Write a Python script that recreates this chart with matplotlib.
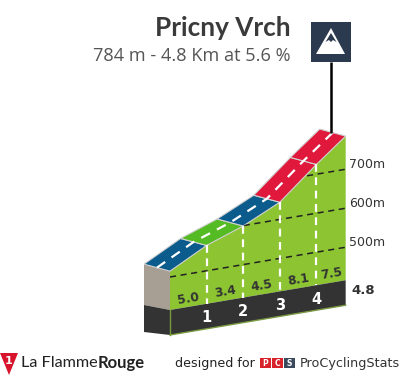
import matplotlib
matplotlib.use("Agg")
import matplotlib.pyplot as plt
from matplotlib.patches import Polygon, Rectangle

km = [0, 1, 2, 3, 4, 4.8]
elev = [515, 565, 599, 644, 725, 785]
gradients = ["5.0", "3.4", "4.5", "8.1", "7.5"]
seg_colors = ["#0b5c8c", "#55bb22", "#0b5c8c", "#e0183c", "#e0183c"]
km_marks = [1, 2, 3, 4]
grid_elev = [500, 600, 700]
title = "Pricny Vrch"
subtitle = "784 m - 4.8 Km at 5.6 %"
total = "4.8"

GREEN = "#8cc432"
DARK = "#333333"
EDGE = "#d0d0d0"

# skewed projection, everything ends up in image pixels
X0, XK = 170, 36.6
SKEW = -6.2           # px of rise per km
Y500 = 277
YM = 0.39             # px per metre
BACK = (-26, -7)      # road width offset
BASE_TOP = 310
BASE_BOT = 335


def px(k, e):
    return X0 + XK * k, Y500 + SKEW * k - (e - 500) * YM


def base(k, y0):
    return X0 + XK * k, y0 + SKEW * k


fig = plt.figure(figsize=(4.05, 3.8), dpi=100)
ax = fig.add_axes([0, 0, 1, 1])
ax.set_xlim(0, 405)
ax.set_ylim(380, 0)
ax.axis("off")

front = [px(k, e) for k, e in zip(km, elev)]
back = [(x + BACK[0], y + BACK[1]) for x, y in front]
mid = [(x + BACK[0] / 2, y + BACK[1] / 2) for x, y in front]

# left side
sx, sy = base(0, BASE_TOP)
bx, by = base(0, BASE_BOT)
ax.add_patch(Polygon([back[0], front[0], (sx, sy), (sx + BACK[0], sy - 5)], fc="#a89f94", ec="none"))
ax.add_patch(Polygon([(sx + BACK[0], sy - 5), (sx, sy), (bx, by), (bx + BACK[0], by - 3)], fc=DARK, ec="none"))

# front face
face = Polygon(front + [base(km[-1], BASE_TOP), base(0, BASE_TOP)], fc=GREEN, ec="none")
ax.add_patch(face)

# dark band
ax.add_patch(Polygon([base(0, BASE_TOP), base(km[-1], BASE_TOP), base(km[-1], BASE_BOT), base(0, BASE_BOT)],
                     fc=DARK, ec="none"))
ax.plot([bx, bx], [sy, by], color="#7a9a40", lw=1)
ax.plot([bx, base(km[-1], BASE_BOT)[0]], [by, base(km[-1], BASE_BOT)[1]], color="#7a9a40", lw=1)

# elevation lines
for g in grid_elev:
    x1, y1 = px(km[0], g)
    x2, y2 = px(km[-1], g)
    l, = ax.plot([x1, x2], [y1, y2], color="#222222", lw=1.1, dashes=(4, 3))
    l.set_clip_path(face)
    ax.text(x2 + 3, y2 - 5, str(g) + "m", fontsize=9, color="#333333", va="center", ha="left",
            family="DejaVu Sans")

# road
for i in range(len(seg_colors)):
    ax.add_patch(Polygon([front[i], front[i + 1], back[i + 1], back[i]], fc=seg_colors[i], ec=EDGE, lw=0.8))
ax.plot([p[0] for p in mid], [p[1] for p in mid], color="white", lw=1.6, dashes=(4.5, 3.5))

# km marks
for k in km_marks:
    x, y = px(k, elev[km.index(k)])
    yb = base(k, BASE_TOP)[1]
    ax.plot([x, x], [y, yb], color="white", lw=1.6, dashes=(3.5, 2.5))
    ax.text(x, base(k, BASE_TOP + 14)[1], str(k), color="white", fontsize=10.5, fontweight="bold",
            ha="center", va="center", family="DejaVu Sans")

# gradients
for i, g in enumerate(gradients):
    k = (km[i] + km[i + 1]) / 2
    ax.text(base(k, 0)[0], base(k, BASE_TOP - 8.5)[1], g, color=DARK, fontsize=8.8, fontweight="bold",
            ha="center", va="center", rotation=9.5, family="DejaVu Sans")

ax.text(351, 291, total, color=DARK, fontsize=9.5, fontweight="bold", ha="left", va="center",
        family="DejaVu Sans")

# title
ax.text(290.5, 28, title, fontsize=18.8, fontweight="bold", color="#3a3a3a", ha="right", va="center", family="Lato")
ax.text(290.5, 56, subtitle, fontsize=13.1, color="#555555", ha="right", va="center", family="Open Sans")

# icon + pole
ax.plot([mid[-1][0] - 2, mid[-1][0] - 2], [62, mid[-1][1]], color="black", lw=1.8, solid_capstyle="butt")
ax.add_patch(Rectangle((311, 22), 40, 40, fc="#2c3a50", ec="none"))
ax.add_patch(Polygon([(331, 28), (316, 54), (345, 54)], fc="white", ec="none"))
ax.add_patch(Polygon([(331, 33), (325.5, 42), (329, 40), (331, 42), (333, 40), (336.5, 42)], fc="#2c3a50", ec="none"))

# footer
ax.add_patch(Polygon([(0, 353), (18, 353), (9, 375)], fc="#d8142c", ec="none"))
ax.text(9, 360.5, "1", color="white", fontsize=8, fontweight="bold", ha="center", va="center", family="DejaVu Sans")
ax.text(21, 363, "La Flamme", fontsize=11.7, color="#222222", ha="left", va="center", family="Lato")
ax.text(98, 363, "Rouge", fontsize=12, color="#222222", ha="left", va="center", family="Lato", fontweight="bold")
ax.text(175, 363, "designed for", fontsize=9.1, color="#222222", ha="left", va="center", family="DejaVu Sans")
for x0, c, s in zip([260, 272, 284], ["#d8232a", "#d8232a", "#3a4a5c"], "PCS"):
    ax.add_patch(Rectangle((x0, 358), 11, 10, fc=c, ec="none"))
    ax.text(x0 + 5.5, 363, s, color="white", fontsize=5.5, fontweight="bold", ha="center", va="center",
            family="DejaVu Sans")
ax.text(300, 363, "ProCyclingStats", fontsize=9.2, color="#333333", ha="left", va="center", family="DejaVu Sans")

fig.savefig("out.png", dpi=100)
